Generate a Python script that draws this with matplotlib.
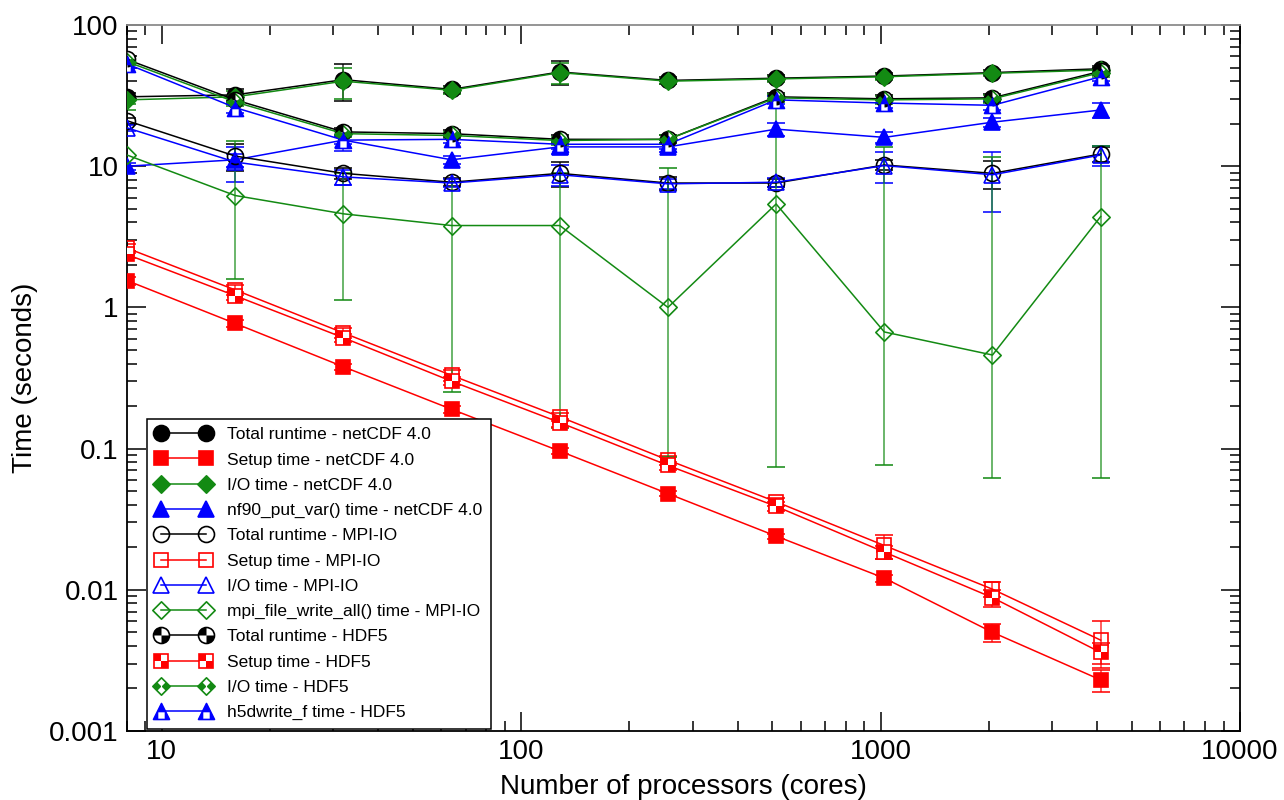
import numpy as np
import matplotlib
matplotlib.use('Agg')
import matplotlib.pyplot as plt
from matplotlib.path import Path
from matplotlib.legend_handler import HandlerTuple
from matplotlib.ticker import FixedLocator, FixedFormatter, LogLocator, NullFormatter

plt.rcParams['font.family'] = ['Liberation Sans', 'DejaVu Sans']

# ---------------- data ----------------
cores = [8, 16, 32, 64, 128, 256, 512, 1024, 2048, 4096]

tot_nc = [31, 32, 41, 35, 46.5, 40.5, 42, 43.5, 46, 49]
tot_nc_err = [2, 3, 12, 2, 9, 2, 2, 2, 2, 2]
setup_nc = [1.55, 0.77, 0.38, 0.19, 0.096, 0.048, 0.024, 0.0121, 0.005, 0.0023]
setup_nc_err = [0.1, 0.04, 0.02, 0.01, 0.005, 0.002, 0.001, 0.0007, 0.0007, 0.0004]
io_nc = [29.5, 31, 40, 34.5, 46, 40, 41.5, 43, 45.5, 48]
io_nc_err = [2, 3, 10, 2, 8, 2, 2, 2, 2, 2]
nf90 = [10, 11.1, 15.3, 11.1, 13.7, 13.7, 18.3, 16, 20.5, 25]
nf90_err = [0.6, 1.2, 2.5, 0.8, 1.5, 1, 2, 1.5, 1.5, 3]

tot_mpi = [21, 11.8, 8.9, 7.7, 8.9, 7.6, 7.6, 10.2, 8.9, 12.2]
tot_mpi_err = [1, 2.5, 0.8, 0.5, 1.8, 0.8, 0.5, 0.8, 2, 1.5]
setup_mpi = [2.63, 1.33, 0.66, 0.33, 0.168, 0.083, 0.042, 0.0206, 0.0101, 0.0044]
setup_mpi_err = [0.2, 0.1, 0.05, 0.03, 0.012, 0.006, 0.003, 0.004, 0.0012, 0.0016]
io_mpi = [18.7, 10.7, 8.4, 7.6, 8.7, 7.5, 7.7, 10.1, 8.7, 12.0]
io_mpi_err = [1, 3, 1, 0.5, 1.5, 0.6, 0.6, 2.5, 4, 2]
wr_mpi = [12, 6.2, 4.6, 3.8, 3.8, 1.0, 5.4, 0.67, 0.46, 4.4]
wr_mpi_lo = [2.5, 1.6, 1.13, 0.25, 0.14, 0.087, 0.074, 0.077, 0.062, 0.062]
wr_mpi_hi = [25, 15, 9, 7.7, 9, 9.7, 32, 13.7, 11.6, 13.9]

tot_hdf = [57, 29.5, 17.5, 17, 15.5, 15.5, 31, 30, 30.5, 47]
tot_hdf_err = [3, 2, 1, 1, 1, 1, 2, 2, 2, 3]
setup_hdf = [2.37, 1.21, 0.61, 0.30, 0.153, 0.076, 0.039, 0.0185, 0.0088, 0.0036]
setup_hdf_err = [0.15, 0.08, 0.04, 0.02, 0.01, 0.005, 0.003, 0.002, 0.0012, 0.0006]
io_hdf = [55, 28.5, 17, 16.5, 15.2, 15.5, 30.5, 29.5, 30, 46]
io_hdf_err = [3, 2, 1, 1, 1, 1, 2, 2, 2, 3]
h5d = [53, 26, 15.3, 15.5, 14.3, 14.3, 29.5, 28, 27, 43]
h5d_err = [3, 2, 1, 1, 1, 1, 2, 2, 2, 3]

labels = [
    "Total runtime - netCDF 4.0", "Setup time - netCDF 4.0", "I/O time - netCDF 4.0",
    "nf90_put_var() time - netCDF 4.0", "Total runtime - MPI-IO", "Setup time - MPI-IO",
    "I/O time - MPI-IO", "mpi_file_write_all() time - MPI-IO", "Total runtime - HDF5",
    "Setup time - HDF5", "I/O time - HDF5", "h5dwrite_f time - HDF5",
]

# ---------------- marker paths ----------------
def poly(*pts):
    return Path(list(pts) + [pts[0]], [Path.MOVETO] + [Path.LINETO] * (len(pts) - 1) + [Path.CLOSEPOLY])

DIAMOND = poly((0, 1), (1, 0), (0, -1), (-1, 0))
CIRC_CHK = Path.make_compound_path(Path.wedge(90, 180), Path.wedge(270, 360))
SQ_CHK = Path.make_compound_path(poly((-1, 0), (0, 0), (0, 1), (-1, 1)),
                                 poly((0, -1), (1, -1), (1, 0), (0, 0)),
                                 Path([(-1, -1), (1, 1)], [Path.MOVETO, Path.MOVETO]))
DIA_CHK = Path.make_compound_path(poly((-1, 0), (-0.5, 0.5), (0, 0), (-0.5, -0.5)),
                                  poly((1, 0), (0.5, 0.5), (0, 0), (0.5, -0.5)),
                                  Path([(0, -1), (0, 1)], [Path.MOVETO, Path.MOVETO]))
TRI = poly((0, 1), (-1, -1), (1, -1))
TRI_CHK = Path.make_compound_path(poly((0, 1), (-0.55, -0.1), (0.55, -0.1)),
                                  poly((-0.55, -0.1), (-1, -1), (-0.4, -1), (-0.4, -0.1)),
                                  poly((0.55, -0.1), (0.4, -0.1), (0.4, -1), (1, -1)))

RED = '#ff0000'
GREEN = '#138a13'
BLUE = '#0000ff'
BLACK = '#000000'

fig = plt.figure(figsize=(12.84, 8.0), dpi=100)
ax = fig.add_axes([127 / 1284, 1 - 731 / 800, (1240 - 127) / 1284, (731 - 25) / 800])
ax.set_xscale('log')
ax.set_yscale('log')

handles = []

def series(y, err, color, marker, ms, filled, pattern=None, lo=None, hi=None, lw=1.1):
    yv = np.array(y, dtype=float)
    if lo is not None:
        yerr = [yv - np.array(lo), np.array(hi) - yv]
    else:
        e = np.array(err, dtype=float)
        yerr = [np.minimum(e, yv * 0.999), e]
    ax.errorbar(cores, yv, yerr=yerr, fmt='none', ecolor=color, elinewidth=1.1,
                capsize=6.5, capthick=1.4, alpha=0.8, zorder=2)
    fc = color if filled else 'white'
    if not filled and pattern is None:
        fc = 'none'
    l1, = ax.plot(cores, yv, color=color, lw=lw, marker=marker, ms=ms,
                  mfc=fc, mec=color, mew=1.2, zorder=3)
    if pattern is not None:
        l2, = ax.plot(cores, yv, ls='none', marker=pattern, ms=ms,
                      mfc=color, mec='none', mew=0, zorder=4)
        handles.append((l1, l2))
    else:
        handles.append(l1)

# netCDF
series(tot_nc, tot_nc_err, BLACK, 'o', 11.5, True)
series(setup_nc, setup_nc_err, RED, 's', 10, True)
series(io_nc, io_nc_err, GREEN, DIAMOND, 12.5, True)
series(nf90, nf90_err, BLUE, '^', 11.5, True)
# MPI-IO
series(tot_mpi, tot_mpi_err, BLACK, 'o', 11.5, False)
series(setup_mpi, setup_mpi_err, RED, 's', 10, False)
series(io_mpi, io_mpi_err, BLUE, '^', 11.5, False)
series(wr_mpi, None, GREEN, DIAMOND, 12.5, False, lo=wr_mpi_lo, hi=wr_mpi_hi)
# HDF5
series(tot_hdf, tot_hdf_err, BLACK, 'o', 11.5, False, pattern=CIRC_CHK)
series(setup_hdf, setup_hdf_err, RED, 's', 10, False, pattern=SQ_CHK)
series(io_hdf, io_hdf_err, GREEN, DIAMOND, 12.5, False, pattern=DIA_CHK)
series(h5d, h5d_err, BLUE, TRI, 11.5, False, pattern=TRI_CHK)

ax.set_xlim(8, 10000)
ax.set_ylim(0.001, 100)

ax.xaxis.set_major_locator(FixedLocator([10, 100, 1000, 10000]))
ax.xaxis.set_major_formatter(FixedFormatter(['10', '100', '1000', '10000']))
ax.xaxis.set_minor_locator(LogLocator(base=10, subs=np.arange(2, 10), numticks=20))
ax.xaxis.set_minor_formatter(NullFormatter())
ax.yaxis.set_major_locator(FixedLocator([0.001, 0.01, 0.1, 1, 10, 100]))
ax.yaxis.set_major_formatter(FixedFormatter(['0.001', '0.01', '0.1', '1', '10', '100']))
ax.yaxis.set_minor_locator(LogLocator(base=10, subs=np.arange(2, 10), numticks=20))
ax.yaxis.set_minor_formatter(NullFormatter())

ax.tick_params(which='both', direction='in', top=True, right=True, width=1.1, colors='black')
ax.tick_params(which='major', length=14, labelsize=20, pad=6)
ax.tick_params(which='minor', length=7)
for s in ['left', 'bottom', 'right']:
    ax.spines[s].set_linewidth(1.3)
    ax.spines[s].set_color('black')
ax.spines['top'].set_color('#8c8c8c')
ax.spines['top'].set_linewidth(1.3)

ax.set_xlabel('Number of processors (cores)', fontsize=20, labelpad=6)
ax.set_ylabel('Time (seconds)', fontsize=20, labelpad=8)

leg = ax.legend(handles, labels, loc='lower left', bbox_to_anchor=(0.018, 0.003),
                numpoints=2, handlelength=3.2, handletextpad=0.9, fontsize=12.5,
                labelspacing=0.58, borderpad=0.5, borderaxespad=0,
                fancybox=False, framealpha=1, edgecolor='black',
                handler_map={tuple: HandlerTuple(ndivide=1, pad=0)})
leg.get_frame().set_linewidth(1.1)
leg.set_zorder(10)

fig.savefig('out.png', dpi=100)
